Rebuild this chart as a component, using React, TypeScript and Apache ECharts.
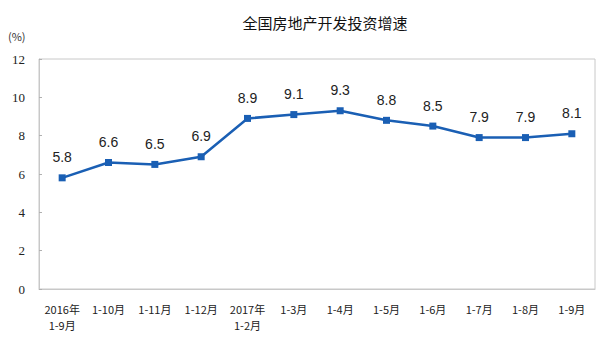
import React, { useEffect, useRef } from "react";
import * as echarts from "echarts";

const categories = ["2016年\n1-9月", "1-10月", "1-11月", "1-12月", "2017年\n1-2月", "1-3月", "1-4月", "1-5月", "1-6月", "1-7月", "1-8月", "1-9月"];
const values = [5.8, 6.6, 6.5, 6.9, 8.9, 9.1, 9.3, 8.8, 8.5, 7.9, 7.9, 8.1];
const titleText = "全国房地产开发投资增速";
const unitText = "(%)";

export default function App() {
  const ref = useRef<HTMLDivElement>(null);
  useEffect(() => {
    if (!ref.current) return;
    const chart = echarts.init(ref.current, undefined, { renderer: "svg" });
    chart.setOption({
      animation: false,
      backgroundColor: "#ffffff",
      title: {
        text: titleText,
        left: 320,
        top: 10,
        textAlign: "center",
        textStyle: { fontFamily: "Noto Sans CJK SC", fontSize: 15, fontWeight: "normal", color: "#111" },
      },
      graphic: [
        {
          type: "text",
          left: 8,
          top: 30,
          style: { text: unitText, fontFamily: "Noto Sans CJK SC", fontSize: 11, fill: "#333" },
        },
        {
          type: "rect",
          shape: { x: 39, y: 59, width: 556, height: 230 },
          style: { fill: "none", stroke: "#c8c8c8", lineWidth: 1 },
          z: 0,
        },
      ],
      grid: { left: 39, right: 5, top: 59, bottom: 63 },
      xAxis: {
        type: "category",
        data: categories,
        boundaryGap: true,
        axisLine: { lineStyle: { color: "#c8c8c8" } },
        axisTick: { inside: true, length: 3, lineStyle: { color: "#b0b0b0" } },
        axisLabel: {
          interval: 0,
          margin: 12,
          fontFamily: "Noto Sans CJK SC",
          fontSize: 11,
          color: "#222",
          lineHeight: 16,
          align: "center",
        },
      },
      yAxis: {
        type: "value",
        min: 0,
        max: 12,
        interval: 2,
        splitLine: { show: false },
        axisLine: { show: true, lineStyle: { color: "#c8c8c8" } },
        axisTick: { show: true, inside: true, length: 3, lineStyle: { color: "#b0b0b0" } },
        axisLabel: { fontFamily: "Liberation Serif", fontSize: 13, color: "#222", margin: 14 },
      },
      series: [
        {
          type: "line",
          data: values,
          symbol: "rect",
          symbolSize: 7,
          lineStyle: { color: "#1a5fb4", width: 2.5 },
          itemStyle: { color: "#1a5fb4" },
          label: {
            show: true,
            position: "top",
            distance: 10,
            fontFamily: "Liberation Sans",
            fontSize: 14,
            color: "#222",
            formatter: (p: any) => p.value.toFixed(1),
          },
        },
      ],
    });
    return () => chart.dispose();
  }, []);
  return <div ref={ref} style={{ width: 600, height: 352, position: "absolute", left: 0, top: 0 }} />;
}
